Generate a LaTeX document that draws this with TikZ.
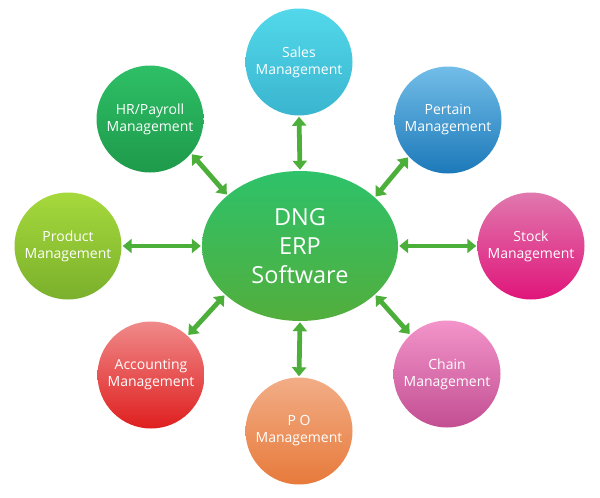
\documentclass[tikz,border=0pt]{standalone}
\usepackage{fontspec}
\setmainfont{Open Sans}
\usetikzlibrary{shapes.geometric,arrows.meta}

\definecolor{arrowgreen}{HTML}{4CAF3A}
\tikzset{
  module/.style={circle,minimum size=107pt,inner sep=0pt,align=center,text=white,
    font=\fontsize{14}{17}\selectfont},
  link/.style={draw=arrowgreen,line width=4.8pt,
    {Triangle[width=14pt,length=9pt]}-{Triangle[width=14pt,length=9pt]},
    shorten >=1pt,shorten <=1pt}
}

\begin{document}
\begin{tikzpicture}[x=1pt,y=-1pt]
\useasboundingbox (0,0) rectangle (600,498);
% the software in the middle
\node[ellipse,minimum width=196pt,minimum height=150pt,inner sep=0pt,
  top color={rgb,255:red,46;green,194;blue,106},bottom color={rgb,255:red,82;green,174;blue,60},
  text=white,align=center,font=\fontsize{23.5}{29}\selectfont] (erp) at (300,246) {DNG\\ERP\\Software};
% the modules round it
\node[module,top color={rgb,255:red,82;green,216;blue,234},bottom color={rgb,255:red,58;green,181;blue,207}] (sales) at (299,62) {Sales\\Management};
\node[module,top color={rgb,255:red,114;green,189;blue,232},bottom color={rgb,255:red,28;green,121;blue,185}] (pertain) at (448,120) {Pertain\\Management};
\node[module,top color={rgb,255:red,224;green,120;blue,174},bottom color={rgb,255:red,224;green,21;blue,122}] (stock) at (531,246) {Stock\\Management};
\node[module,top color={rgb,255:red,243;green,148;blue,202},bottom color={rgb,255:red,194;green,78;blue,146}] (chain) at (447,374) {Chain\\Management};
\node[module,top color={rgb,255:red,242;green,173;blue,134},bottom color={rgb,255:red,231;green,122;blue,59}] (po) at (299,431) {P O\\Management};
\node[module,top color={rgb,255:red,240;green,138;blue,138},bottom color={rgb,255:red,223;green,30;blue,30}] (accounting) at (151,375) {Accounting\\Management};
\node[module,top color={rgb,255:red,166;green,217;blue,60},bottom color={rgb,255:red,122;green,176;blue,44}] (product) at (68,246) {Product\\Management};
\node[module,top color={rgb,255:red,46;green,191;blue,102},bottom color={rgb,255:red,30;green,154;blue,75}] (hr) at (150,119) {HR/Payroll\\Management};
% the double arrows
\foreach \a/\b in {erp.north/sales.south, erp.33/pertain.223, erp.east/stock.west,
  erp.-33/chain.133, erp.south/po.north, erp.213/accounting.47,
  erp.west/product.east, erp.145/hr.-40}
  \draw[link] (\a) -- (\b);
\end{tikzpicture}
\end{document}
